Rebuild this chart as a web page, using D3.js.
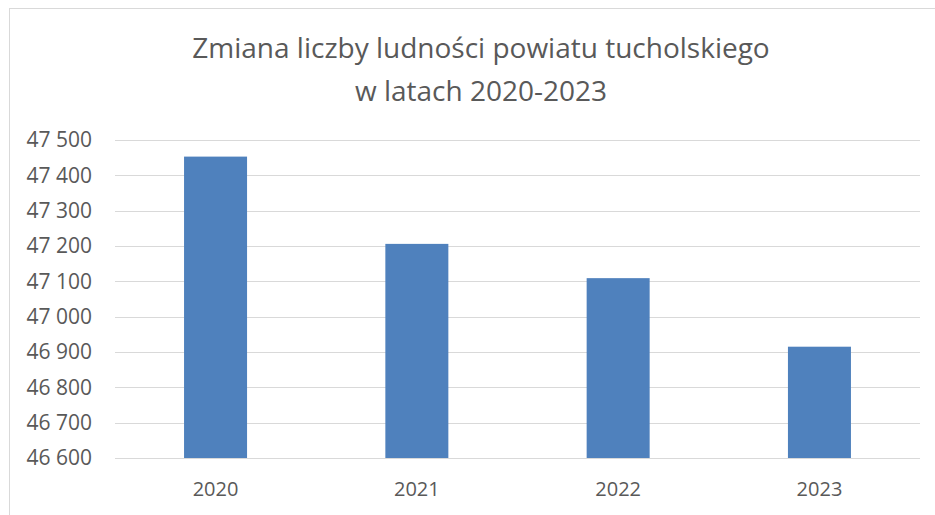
<!DOCTYPE html>
<html>
<head>
<meta charset="utf-8">
<script src="https://cdn.jsdelivr.net/npm/d3@7"></script>
<style>
  body { margin: 0; background: #fff; }
  text { font-family: "Open Sans", "Noto Sans", sans-serif; fill: #595959; }
</style>
</head>
<body>
<div id="chart"></div>
<script>
// data
var years = ["2020", "2021", "2022", "2023"];
var population = [47453, 47206, 47109, 46915];
var yTicks = [46600, 46700, 46800, 46900, 47000, 47100, 47200, 47300, 47400, 47500];
var titleLines = ["Zmiana liczby ludności powiatu tucholskiego", "w latach 2020-2023"];

var svgWidth = 935, svgHeight = 515;
var margin = { top: 140, right: 15, bottom: 57, left: 115 };
var width = svgWidth - margin.left - margin.right;
var height = svgHeight - margin.top - margin.bottom;

var svg = d3.select("#chart").append("svg")
  .attr("width", svgWidth)
  .attr("height", svgHeight);

// chart border
svg.append("rect")
  .attr("x", 9.5).attr("y", 8.5)
  .attr("width", svgWidth + 20).attr("height", svgHeight + 20)
  .attr("fill", "none")
  .attr("stroke", "#d9d9d9");

// title
svg.append("text")
  .attr("x", 481).attr("y", 58)
  .attr("text-anchor", "middle")
  .attr("font-size", "28px")
  .text(titleLines[0]);
svg.append("text")
  .attr("x", 481).attr("y", 101)
  .attr("text-anchor", "middle")
  .attr("font-size", "28px")
  .text(titleLines[1]);

var g = svg.append("g").attr("transform", `translate(${margin.left}, ${margin.top})`);

var x = d3.scaleBand().domain(years).range([0, width]).paddingInner(0.687).paddingOuter(0.343);
var y = d3.scaleLinear().domain([46600, 47500]).range([height, 0]);

// gridlines
g.selectAll(".grid").data(yTicks).enter().append("line")
  .attr("x1", 0).attr("x2", width)
  .attr("y1", d => Math.round(y(d)) + 0.5).attr("y2", d => Math.round(y(d)) + 0.5)
  .attr("stroke", "#d9d9d9").attr("stroke-width", 1);

// y axis
var leftAxis = d3.axisLeft(y).tickValues(yTicks).tickSize(0).tickPadding(23)
  .tickFormat(d => d3.format(",")(d).replace(",", " "));
var ya = g.append("g").call(leftAxis);
ya.select(".domain").remove();
ya.selectAll("text").attr("font-size", "21px").attr("fill", "#595959");

// bars
g.selectAll(".bar").data(population).enter().append("rect")
  .attr("x", (d, i) => x(years[i]))
  .attr("width", x.bandwidth())
  .attr("y", d => y(d))
  .attr("height", d => height - y(d))
  .attr("fill", "#4f81bd");

// x axis
var bottomAxis = d3.axisBottom(x).tickSize(0).tickPadding(24);
var xa = g.append("g").attr("transform", `translate(0, ${height})`).call(bottomAxis);
xa.select(".domain").remove();
xa.selectAll("text").attr("font-size", "20px").attr("fill", "#595959");
xa.attr("font-family", null); ya.attr("font-family", null);
</script>
</body>
</html>
